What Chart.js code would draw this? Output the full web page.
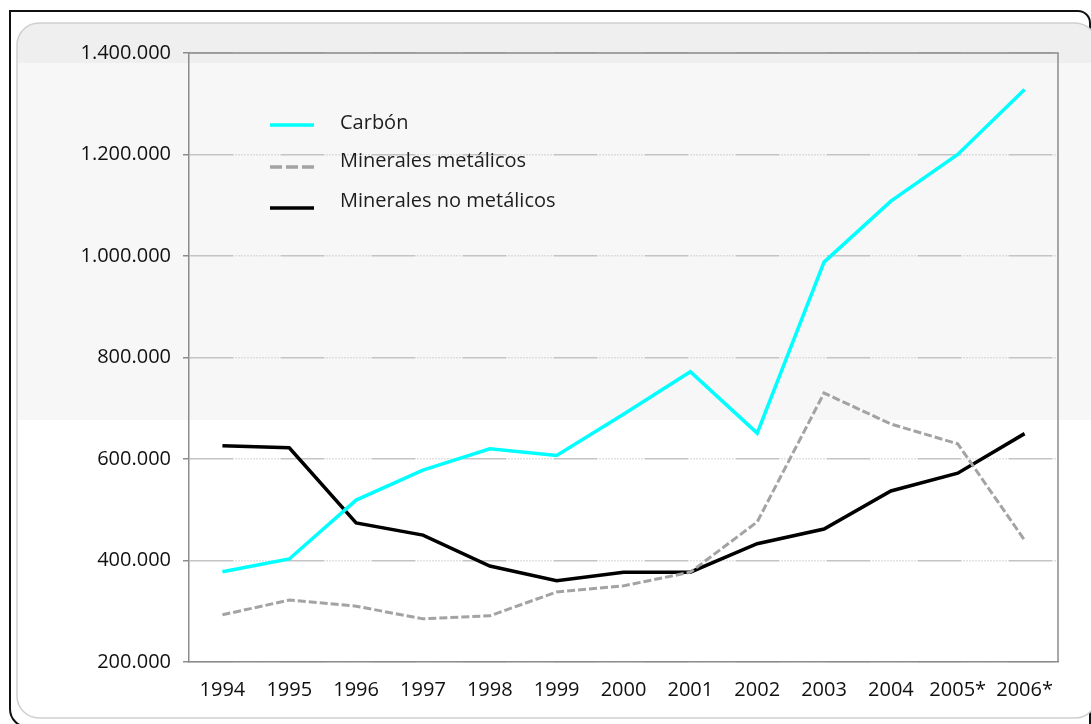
<!DOCTYPE html>
<html>
<head>
<meta charset="utf-8">
<script src="https://cdn.jsdelivr.net/npm/chart.js@4/dist/chart.umd.min.js"></script>
<style>
  html, body { margin: 0; padding: 0; background: #fff; }
  #wrap { width: 1091px; height: 724px; }
</style>
</head>
<body>
<div id="wrap"><canvas id="chart" width="1091" height="724"></canvas></div>
<script>
// Data
const years = ['1994', '1995', '1996', '1997', '1998', '1999', '2000', '2001', '2002', '2003', '2004', '2005*', '2006*'];
const carbon = [378000, 403000, 519000, 578000, 620000, 607000, 688000, 772000, 651000, 988000, 1108000, 1200000, 1328000];
const metalicos = [293000, 322000, 310000, 285000, 291000, 338000, 350000, 377000, 476000, 730000, 669000, 630000, 440000];
const noMetalicos = [626000, 622000, 474000, 450000, 389000, 360000, 377000, 377000, 433000, 462000, 537000, 572000, 650000];
const yTicks = [200000, 400000, 600000, 800000, 1000000, 1200000, 1400000];

const FONT = '"Open Sans", "Liberation Sans", sans-serif';

// mixed solid / dotted grid style like the original
const gridDash = [44, 2, 1, 2, 1, 2, 1, 2, 1, 2, 1, 2, 1, 2, 1, 2, 1, 2, 1, 2, 1, 2, 1, 2, 1, 2, 1, 2, 1, 2, 1, 2];

// panel behind the chart
const panelBg = {
    id: 'panelBg',
    beforeDraw(chart) {
        const ctx = chart.ctx;
        ctx.save();
        ctx.fillStyle = '#fff';
        ctx.fillRect(0, 0, chart.width, chart.height);

        // outer black frame
        ctx.strokeStyle = '#111';
        ctx.lineWidth = 2;
        ctx.beginPath();
        ctx.roundRect(10, 11, 1080, 716, [0, 12, 0, 18]);
        ctx.stroke();

        // inner grey panel
        ctx.beginPath();
        ctx.roundRect(17, 23, 1080, 695, 22);
        ctx.fillStyle = '#fff';
        ctx.fill();
        ctx.save();
        ctx.clip();
        ctx.fillStyle = '#efefef';
        ctx.fillRect(17, 23, 1080, 40);
        ctx.fillStyle = '#f7f7f7';
        ctx.fillRect(17, 63, 1080, 357);
        ctx.restore();
        ctx.strokeStyle = '#cfcfcf';
        ctx.lineWidth = 1.5;
        ctx.stroke();
        ctx.restore();
    },
    afterDraw(chart) {
        // top and right frame of the plot
        const a = chart.chartArea;
        const ctx = chart.ctx;
        ctx.save();
        ctx.strokeStyle = '#8c8c8c';
        ctx.lineWidth = 1.5;
        ctx.beginPath();
        ctx.moveTo(a.left, a.top);
        ctx.lineTo(a.right, a.top);
        ctx.lineTo(a.right, a.bottom);
        ctx.stroke();
        ctx.restore();
    }
};

// legend drawn inside the plot, top left
const innerLegend = {
    id: 'innerLegend',
    afterDatasetsDraw(chart) {
        const ctx = chart.ctx;
        const rows = [
            { y: 125, ty: 123 },
            { y: 167, ty: 161 },
            { y: 208, ty: 201 }
        ];
        ctx.save();
        chart.data.datasets.forEach((ds, i) => {
            const r = rows[i];
            ctx.strokeStyle = ds.borderColor;
            ctx.lineWidth = 3.5;
            ctx.setLineDash(ds.borderDash ? [12, 4] : []);
            ctx.beginPath();
            ctx.moveTo(270, r.y);
            ctx.lineTo(314, r.y);
            ctx.stroke();
            ctx.setLineDash([]);
            ctx.fillStyle = '#1e1e1e';
            ctx.font = '20px ' + FONT;
            ctx.textBaseline = 'middle';
            ctx.fillText(ds.label, 340, r.ty);
        });
        ctx.restore();
    }
};

const config = {
    type: 'line',
    data: {
        labels: years,
        datasets: [
            {
                label: 'Carbón',
                data: carbon,
                borderColor: '#00ffff',
                borderWidth: 3.5,
                pointRadius: 0,
                tension: 0
            },
            {
                label: 'Minerales metálicos',
                data: metalicos,
                borderColor: '#a3a3a3',
                borderWidth: 3,
                borderDash: [8, 3],
                pointRadius: 0,
                tension: 0
            },
            {
                label: 'Minerales no metálicos',
                data: noMetalicos,
                borderColor: '#000000',
                borderWidth: 3.5,
                pointRadius: 0,
                tension: 0
            }
        ]
    },
    options: {
        responsive: false,
        animation: false,
        layout: { padding: { top: 53, right: 33, left: 0, bottom: 0 } },
        plugins: {
            legend: { display: false },
            tooltip: { enabled: false }
        },
        scales: {
            x: {
                offset: true,
                grid: { display: false, drawTicks: false },
                border: { display: true, color: '#8c8c8c', width: 1.5 },
                ticks: {
                    color: '#111',
                    padding: 16,
                    maxRotation: 0,
                    autoSkip: false,
                    font: { family: FONT, size: 20 }
                },
                afterFit(scale) { scale.height = 62; }
            },
            y: {
                min: 200000,
                max: 1400000,
                afterBuildTicks(scale) {
                    scale.ticks = yTicks.map(v => ({ value: v }));
                },
                grid: {
                    color: '#c4c4c4',
                    lineWidth: 1.5,
                    tickLength: 6,
                    tickColor: '#8c8c8c'
                },
                border: { display: true, color: '#8c8c8c', width: 1.5, dash: gridDash },
                ticks: {
                    color: '#111',
                    padding: 12,
                    font: { family: FONT, size: 20 },
                    callback: v => v.toLocaleString('de-DE')
                },
                afterFit(scale) { scale.width = 189; }
            }
        }
    },
    plugins: [panelBg, innerLegend]
};

new Chart(document.getElementById('chart'), config);
</script>
</body>
</html>
